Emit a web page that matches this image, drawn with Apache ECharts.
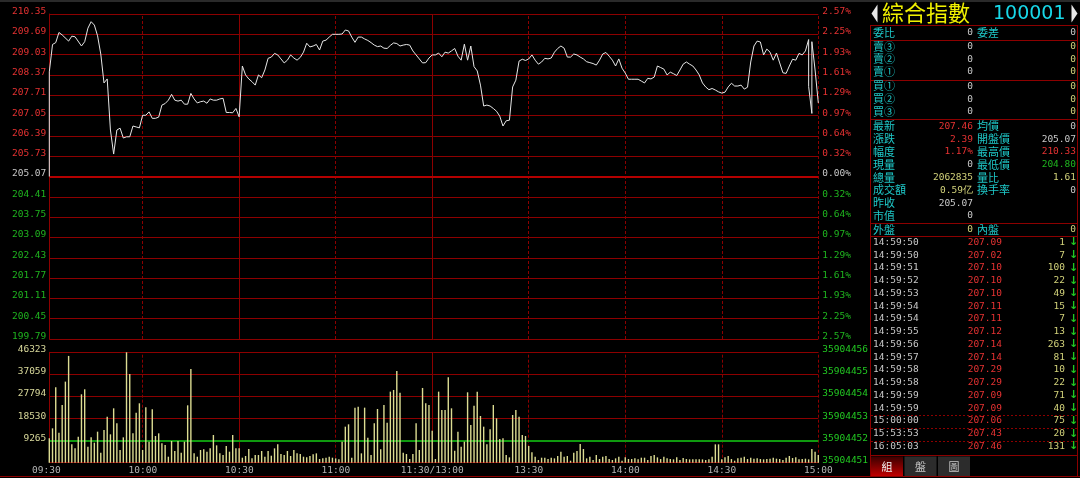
<!DOCTYPE html>
<html><head><meta charset="utf-8">
<script src="https://cdn.jsdelivr.net/npm/echarts@6/dist/echarts.min.js"></script>
<style>html,body{margin:0;padding:0;background:#000;overflow:hidden}#c{width:1080px;height:478px;}</style>
</head><body><div id="c"></div><script>
// ---------------- data ----------------
const prevClose = 205.07;
const priceMinutes = [1,1,2,3,4,5,7,8,9,11,12,13,14,15,16,17,18,19,20,21,22,23,24,25,26,27,28,29,30,31,32,33,34,35,36,37,38,39,40,41,42,43,44,45,46,47,48,49,50,51,52,53,54,55,56,57,58,59,60,61,62,63,64,65,66,67,68,69,70,71,72,73,74,75,76,77,78,79,80,81,82,83,84,85,86,87,88,89,90,91,92,93,94,95,96,97,98,99,100,101,102,103,104,105,106,107,108,109,110,111,112,113,114,115,116,117,118,119,120,121,122,123,124,125,126,127,128,129,130,131,132,133,134,135,136,137,138,139,140,141,142,143,144,145,146,147,148,149,150,151,152,153,154,155,156,157,158,159,160,161,162,163,164,165,166,167,168,169,170,171,172,173,174,175,176,177,178,179,180,181,182,183,184,185,186,187,188,189,190,191,192,193,194,195,196,197,198,199,200,201,202,203,204,205,206,207,208,209,210,211,212,213,214,215,216,217,218,219,220,221,222,223,224,225,226,227,228,229,230,231,232,233,234,235,236,237,237,238,238,239,240];
const priceValues = [205.07,208.47,209.36,209.42,209.75,209.67,209.47,209.63,209.61,209.31,209.45,209.89,210.10,209.99,209.64,209.05,208.11,208.24,206.58,205.80,206.58,206.64,206.32,206.36,206.36,206.71,206.68,206.65,207.06,207.06,207.17,206.96,206.96,207.00,207.39,207.44,207.55,207.74,207.55,207.52,207.55,207.42,207.42,207.77,207.59,207.46,207.50,207.52,207.45,207.59,207.55,207.55,207.59,207.61,207.15,207.15,207.14,207.28,207.01,208.66,208.37,208.24,208.15,208.04,208.37,208.28,208.53,208.91,208.95,209.07,209.02,208.89,208.76,208.85,209.02,208.92,208.85,208.94,209.11,209.40,209.28,209.31,209.36,209.18,209.47,209.50,209.60,209.69,209.69,209.69,209.70,209.83,209.80,209.60,209.43,209.60,209.60,209.54,209.49,209.42,209.34,209.29,209.31,209.24,209.23,209.33,209.41,209.39,209.31,209.34,209.36,209.34,209.15,209.02,208.89,208.76,208.77,208.92,209.02,209.02,209.08,208.96,209.11,209.08,209.15,209.23,208.98,208.85,209.37,208.85,209.31,208.64,208.50,208.04,207.36,207.39,207.36,207.28,207.19,207.03,206.71,206.88,206.90,207.98,208.20,208.82,208.88,208.84,208.89,209.02,208.85,208.72,208.79,208.91,208.89,208.92,209.11,209.23,209.31,209.24,208.95,208.95,209.05,209.02,208.95,208.89,208.80,208.77,208.74,208.69,208.85,209.05,209.10,208.98,208.85,208.66,208.89,208.59,208.43,208.23,208.23,208.23,208.23,208.17,208.11,208.26,208.24,208.30,208.66,208.61,208.56,208.37,208.46,208.41,208.35,208.53,208.72,208.79,208.72,208.66,208.53,208.37,208.11,207.98,207.89,207.93,207.88,207.82,207.78,207.81,207.98,208.10,208.01,208.01,208.04,207.91,207.97,208.79,209.31,209.47,209.44,209.02,209.21,209.11,208.85,209.08,208.76,208.44,208.42,208.66,208.88,208.85,209.07,209.02,209.15,209.52,207.99,207.12,209.45,208.53,207.46];
// one volume per minute, 09:31 .. 15:00
const volumeValues = [
10220,14420,31640,12600,24220,34020,44800,7700,6020,10920,
28700,30800,6720,10640,8400,13020,4200,13720,19320,11900,
22820,16520,5320,10640,46323,37240,12320,21000,24920,5320,
23240,8820,22400,11200,12320,8120,7420,2520,9100,4900,
9100,4200,8820,24080,39340,3920,2520,5320,5600,4620,
6020,11620,7280,3920,3220,7000,4620,11620,6020,6020,
2100,2800,5740,1820,3220,3220,4900,2520,4900,2940,
6020,7700,3640,3220,4900,2800,5320,3920,
3640,2520,2240,2800,3500,3920,1540,1820,2100,2520,
2100,1820,1400,8820,15120,16100,2100,23100,23520,3920,
23100,10500,3220,16520,22540,5600,24220,16800,29820,30520,
38500,29400,4200,3640,1540,3640,16520,5320,31360,24920,
24220,13440,1540,29820,22120,22120,35840,22820,5040,13020,
6720,8820,29540,15820,23940,29820,19600,15120,7700,14000,
24220,18620,9940,10220,3220,2240,20020,22120,19320,11620,
11200,7000,4340,2520,1120,2100,2100,1540,2100,1820,
2800,4620,2520,2800,840,4200,4900,7840,5740,1820,
2520,1120,3220,1540,2520,2800,1540,1120,1820,2520,
840,2240,1540,1540,1820,1400,2100,2100,1120,2800,
3220,2240,1540,2520,1820,1540,1400,2240,1120,1960,
1540,1400,1400,1400,1400,1400,1120,1400,2520,7700,
7700,1400,2240,2800,1540,840,1820,2100,2520,1540,
2100,1680,1820,1540,1400,1540,1680,2100,1680,1540,
1120,2100,2800,1960,2240,1400,1540,1680,1400,5740,
4620,3220];
const priceTickLabels = ['199.79','200.45','201.11','201.77','202.43','203.09','203.75','204.41','205.07','205.73','206.39','207.05','207.71','208.37','209.03','209.69','210.35'];
const pctTickLabels = ['2.57%','2.25%','1.93%','1.61%','1.29%','0.97%','0.64%','0.32%','0.00%','0.32%','0.64%','0.97%','1.29%','1.61%','1.93%','2.25%','2.57%'];
const volTickLabels = ['','9265','18530','27794','37059','46323'];
const volRightLabels = ['35904451','35904452','35904453','35904454','35904455','35904456'];
const timeLabels = ['09:30','10:00','10:30','11:00','11:30/13:00','13:30','14:00','14:30','15:00'];
const titleName = '綜合指數';
const titleCode = '100001';
const headRow = ['委比','0','委差','0'];
const askLabels = ['賣③','賣②','賣①'];
const bidLabels = ['買①','買②','買③'];
const bookPrices = ['0','0','0','0','0','0'];
const bookVols = ['0','0','0','0','0','0'];
const statLabelsL = ['最新','漲跌','幅度','現量','總量','成交額','昨收','市值'];
const statValuesL = ['207.46','2.39','1.17%','0','2062835','0.59亿','205.07','0'];
const statLabelsR = ['均價','開盤價','最高價','最低價','量比','換手率'];
const statValuesR = ['0','205.07','210.33','204.80','1.61','0'];
const flowRow = ['外盤','0','內盤','0'];
const tradeTimes = ['14:59:50','14:59:50','14:59:51','14:59:52','14:59:53','14:59:54','14:59:54','14:59:55','14:59:56','14:59:57','14:59:58','14:59:58','14:59:59','14:59:59','15:00:00','15:53:53','16:05:03'];
const tradePrices = ['207.09','207.02','207.10','207.10','207.10','207.11','207.11','207.12','207.14','207.14','207.29','207.29','207.09','207.09','207.06','207.43','207.46'];
const tradeVols = ['1','7','100','22','49','15','7','13','263','81','10','22','71','40','75','20','131'];
const tabLabels = ['組','盤','圖'];

// ---------------- styles ----------------
const RED_GRID = '#8c0000', UP = '#e63232', DN = '#1fb41f', FLAT = '#c8c8c8', CYAN = '#1ec8c8', YEL = '#d2d27a';
const NUM = '"DejaVu Sans Mono", monospace';
const CJK = '"Noto Sans CJK TC", sans-serif';
const numFont = '9.5px ' + NUM;
const cjkFont = '11px ' + CJK;
const statToneL = [UP, UP, UP, FLAT, YEL, YEL, FLAT, FLAT];
const statToneR = [FLAT, FLAT, UP, DN, YEL, FLAT];

const chart = echarts.init(document.getElementById('c'), null, {renderer: 'canvas'});
const priceData = priceMinutes.map((m, i) => [m, +(priceValues[i] - prevClose).toFixed(2)]);
const volData = volumeValues.map((v, i) => [i + 1, v]);
const span = 5.28, step = 0.66;
const volMax = 46323, volStep = volMax / 5;

const vMarks = [30, 60, 90, 120, 150, 180, 210, 240];
const vSolid = {60: true, 120: true};
const vLineData = vMarks.map(m => ({xAxis: m, lineStyle: {color: RED_GRID, width: 1, type: vSolid[m] ? 'solid' : [3, 2]}}));

function toneKey(v) {
  const i = Math.round((v + span) / step);
  return [i, i > 8 ? 'up' : (i < 8 ? 'dn' : 'mid')];
}
function priceLabel(v) { const t = toneKey(v); return '{' + t[1] + '|' + priceTickLabels[t[0]] + '}'; }
function pctLabel(v) { const t = toneKey(v); return '{' + t[1] + '|' + pctTickLabels[t[0]] + '}'; }
const LH = 5;
const richTone = {
  up: {color: UP, fontFamily: NUM, fontSize: 9.5, lineHeight: LH},
  dn: {color: DN, fontFamily: NUM, fontSize: 9.5, lineHeight: LH},
  mid: {color: FLAT, fontFamily: NUM, fontSize: 9.5, lineHeight: LH}
};

// ---------------- right panel graphics ----------------
const G = [];
function T(x, y, s, fill, font, align) {
  G.push({type: 'text', x: x, y: y, z: 10, silent: true, style: {text: s, fill: fill, font: font, align: align || 'left', verticalAlign: 'middle'}});
}
function L(x1, y1, x2, y2, stroke, dash, w) {
  G.push({type: 'line', z: 10, silent: true, shape: {x1: x1, y1: y1, x2: x2, y2: y2}, style: {stroke: stroke, lineWidth: w || 1, lineDash: dash || null}});
}
// frame
G.push({type: 'rect', z: 9, silent: true, shape: {x: 0, y: 0, width: 1080, height: 2}, style: {fill: '#2a2a2a'}});
L(0, 476.5, 1080, 476.5, RED_GRID);
[25.5, 40.5, 80.5, 119.5, 223.5, 236.5, 455.5].forEach(y => L(870, y, 1078, y, RED_GRID));
L(870.5, 25, 870.5, 477, RED_GRID);
L(1077.5, 25, 1077.5, 477, RED_GRID);
// title
G.push({type: 'polygon', z: 10, silent: true, shape: {points: [[877.5, 4.5], [877.5, 22.5], [871.5, 13.5]]}, style: {fill: '#e8e8e8'}});
G.push({type: 'polygon', z: 10, silent: true, shape: {points: [[1071.5, 4.5], [1071.5, 22.5], [1077.5, 13.5]]}, style: {fill: '#e8e8e8'}});
T(882, 13, titleName, '#f0f000', '22px ' + CJK);
T(993, 14, titleCode, '#18d8e8', '19px "DejaVu Sans", sans-serif');
// head row
T(873, 32.5, headRow[0], CYAN, cjkFont);
T(973, 32.5, headRow[1], FLAT, numFont, 'right');
T(977, 32.5, headRow[2], CYAN, cjkFont);
T(1076, 32.5, headRow[3], FLAT, numFont, 'right');
// order book
askLabels.forEach((s, i) => {
  const y = 46.7 + i * 12.6;
  T(873, y, s, CYAN, cjkFont);
  T(973, y, bookPrices[i], FLAT, numFont, 'right');
  T(1076, y, bookVols[i], YEL, numFont, 'right');
});
bidLabels.forEach((s, i) => {
  const y = 86.2 + i * 12.9;
  T(873, y, s, CYAN, cjkFont);
  T(973, y, bookPrices[3 + i], FLAT, numFont, 'right');
  T(1076, y, bookVols[3 + i], YEL, numFont, 'right');
});
// stats
statLabelsL.forEach((s, i) => {
  const y = 126.3 + i * 12.8;
  T(873, y, s, CYAN, cjkFont);
  T(973, y, statValuesL[i], statToneL[i], numFont, 'right');
  if (i < statLabelsR.length) {
    T(977, y, statLabelsR[i], CYAN, cjkFont);
    T(1076, y, statValuesR[i], statToneR[i], numFont, 'right');
  }
});
// flow row
T(873, 229.5, flowRow[0], CYAN, cjkFont);
T(973, 229.5, flowRow[1], YEL, numFont, 'right');
T(977, 229.5, flowRow[2], CYAN, cjkFont);
T(1076, 229.5, flowRow[3], YEL, numFont, 'right');
// trades
tradeTimes.forEach((t, i) => {
  const y = 242.5 + i * 12.75;
  T(873, y, t, FLAT, numFont);
  T(1002, y, tradePrices[i], UP, numFont, 'right');
  T(1065, y, tradeVols[i], YEL, numFont, 'right');
  T(1073.5, y, '↓', '#22c822', 'bold 11px "DejaVu Sans", sans-serif', 'center');
});
[415.5, 428.5, 441.5].forEach(y => L(871, y, 1077, y, RED_GRID, [2, 2]));
// tabs
tabLabels.forEach((s, i) => {
  const x = 871 + i * 33.5;
  G.push({type: 'rect', z: 9, silent: true, shape: {x: x, y: 456.5, width: 32, height: 19.5},
    style: {fill: i === 0 ? new echarts.graphic.LinearGradient(0, 0, 0, 1, [{offset: 0, color: '#3a0000'}, {offset: 1, color: '#c00000'}]) : '#2c2c2c'}});
  T(x + 16, 466.5, s, i === 0 ? '#f0f0f0' : '#c8c8c8', cjkFont, 'center');
});

// ---------------- option ----------------
const option = {
  backgroundColor: '#000',
  animation: false,
  grid: [
    {left: 49.3, right: 261.7, top: 14, height: 325},
    {left: 49.3, right: 261.7, top: 352.3, height: 110.4},
    {left: 46.3, right: 261.7, top: 463, height: 1}
  ],
  xAxis: [
    {type: 'value', gridIndex: 0, min: 1, max: 240, axisLine: {show: false}, axisTick: {show: false}, axisLabel: {show: false}, splitLine: {show: false}},
    {type: 'value', gridIndex: 1, min: 1, max: 240, axisLine: {show: false}, axisTick: {show: false}, axisLabel: {show: false}, splitLine: {show: false}},
    {type: 'value', gridIndex: 2, min: 0, max: 240, interval: 30, axisLine: {show: false}, axisTick: {show: false}, splitLine: {show: false},
      axisLabel: {show: true, margin: 2, color: '#b4b4b4', fontFamily: NUM, fontSize: 9.5, showMinLabel: true, showMaxLabel: true,
        formatter: v => timeLabels[Math.round(v / 30)]}}
  ],
  yAxis: [
    {type: 'value', gridIndex: 0, min: -span, max: span, interval: step, position: 'left',
      axisLine: {show: true, lineStyle: {color: RED_GRID, width: 1}}, axisTick: {show: false},
      splitLine: {show: true, lineStyle: {color: RED_GRID, width: 1}},
      axisLabel: {margin: 3, verticalAlign: 'bottom', lineHeight: LH, formatter: priceLabel, rich: richTone, showMinLabel: true, showMaxLabel: true}},
    {type: 'value', gridIndex: 0, min: -span, max: span, interval: step, position: 'right',
      axisLine: {show: false}, axisTick: {show: false}, splitLine: {show: false},
      axisLabel: {margin: 4, verticalAlign: 'bottom', lineHeight: LH, formatter: pctLabel, rich: richTone, showMinLabel: true, showMaxLabel: true}},
    {type: 'value', gridIndex: 1, min: 0, max: volMax, interval: volStep, position: 'left',
      axisLine: {show: true, lineStyle: {color: RED_GRID, width: 1}}, axisTick: {show: false},
      splitLine: {show: true, lineStyle: {color: RED_GRID, width: 1}},
      axisLabel: {margin: 3, verticalAlign: 'bottom', lineHeight: LH, color: '#d8d89a', fontFamily: NUM, fontSize: 9.5, showMinLabel: true, showMaxLabel: true,
        formatter: v => volTickLabels[Math.round(v / volStep)]}},
    {type: 'value', gridIndex: 1, min: 0, max: volMax, interval: volStep, position: 'right',
      axisLine: {show: false}, axisTick: {show: false}, splitLine: {show: false},
      axisLabel: {margin: 4, verticalAlign: 'bottom', lineHeight: LH, color: '#22c822', fontFamily: NUM, fontSize: 9.5, showMinLabel: true, showMaxLabel: true,
        formatter: v => volRightLabels[Math.round(v / volStep)]}},
    {type: 'value', gridIndex: 2, show: false, min: 0, max: 1}
  ],
  series: [
    {type: 'line', name: 'price', xAxisIndex: 0, yAxisIndex: 0, data: priceData, showSymbol: false, symbol: 'none',
      lineStyle: {color: '#e6e6e6', width: 1}, silent: true, z: 5,
      markLine: {silent: true, symbol: 'none', label: {show: false}, animation: false,
        data: vLineData.concat([{yAxis: 0, lineStyle: {color: '#b40000', width: 2, type: 'solid'}}])}},
    {type: 'bar', name: 'volume', xAxisIndex: 1, yAxisIndex: 2, data: volData, barWidth: 1.4, silent: true, z: 5,
      itemStyle: {color: '#dcdc92'},
      markLine: {silent: true, symbol: 'none', label: {show: false}, animation: false,
        data: vLineData.concat([{yAxis: volStep, lineStyle: {color: '#0f9a0f', width: 2, type: 'solid'}}])}},
    {type: 'line', xAxisIndex: 2, yAxisIndex: 4, data: [], silent: true}
  ],
  graphic: G
};
chart.setOption(option);
</script></body></html>
